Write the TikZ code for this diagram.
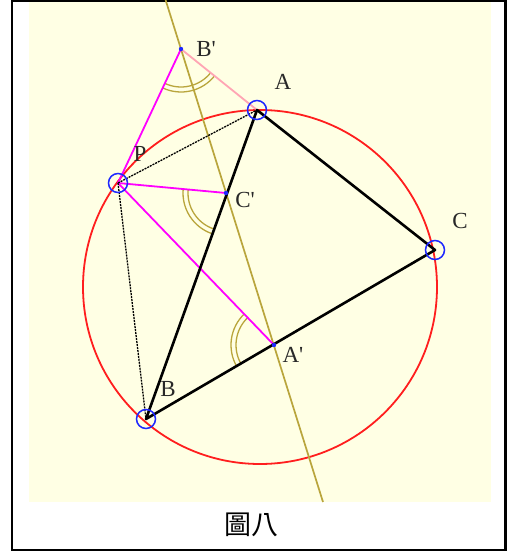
\documentclass[tikz,border=0pt]{standalone}
\usepackage{fontspec}
\setmainfont{Liberation Serif}
\newfontfamily\cjkfont{Noto Sans CJK TC}
\usetikzlibrary{angles}
\definecolor{bgyellow}{RGB}{255,255,228}
\definecolor{olivel}{RGB}{185,165,60}
\definecolor{pinkl}{RGB}{255,165,180}
\definecolor{mag}{RGB}{255,0,255}
\definecolor{redc}{RGB}{255,30,30}
\definecolor{bluep}{RGB}{30,40,255}
\definecolor{labelgray}{RGB}{40,40,40}
\tikzset{
  tri/.style={black,line width=2.6pt},
  dashline/.style={black,line width=1.3pt,dash pattern=on 2pt off 1pt},
  perp/.style={mag,line width=1.8pt},
  simson/.style={olivel,line width=1.7pt},
  ptmark/.style={bluep,line width=1.5pt},
  lbl/.style={labelgray,font=\fontsize{23}{23}\selectfont,inner sep=0pt},
  angmark/.style={draw=olivel,line width=1.3pt}
}
\begin{document}
\begin{tikzpicture}[x=1pt,y=-1pt]
\useasboundingbox (0,0) rectangle (508,551);
\fill[bgyellow] (29,0) rectangle (491,502);
\draw[black,line width=2.5pt] (12,0.5) rectangle (505.5,550);
% points
\coordinate (O) at (260,287);
\coordinate (A) at (257,110);
\coordinate (B) at (146,419);
\coordinate (C) at (435,250);
\coordinate (P) at (118,183);
\coordinate (Bp) at (181,49);
\coordinate (Cp) at (226,193);
\coordinate (Ap) at (274,345);
\coordinate (S1) at (165.6,0);
\coordinate (S2) at (323,502);
% circle
\draw[redc,line width=1.8pt] (O) circle (177pt);
% simson line
\draw[simson] (S1) -- (S2);
% angle marks
\pic[angmark,angle radius=38pt] {angle=P--Bp--A};
\pic[angmark,angle radius=43pt] {angle=P--Bp--A};
\pic[angmark,angle radius=38pt] {angle=P--Cp--B};
\pic[angmark,angle radius=43pt] {angle=P--Cp--B};
\pic[angmark,angle radius=38pt] {angle=P--Ap--B};
\pic[angmark,angle radius=43pt] {angle=P--Ap--B};
% perpendiculars
\draw[pinkl,line width=1.8pt] (A) -- (Bp);
\draw[perp] (P) -- (Bp);
\draw[perp] (P) -- (Cp);
\draw[perp] (P) -- (Ap);
% dashed
\draw[dashline] (P) -- (A);
\draw[dashline] (P) -- (B);
% triangle
\draw[tri,line join=round] (A) -- (B) -- (C) -- cycle;
% point marks
\foreach \p in {A,B,C,P} \draw[ptmark] (\p) circle (9.5pt);
\foreach \p in {Ap,Bp,Cp} \fill[bluep] (\p) circle (2.2pt);
% labels
\node[lbl] (lA) at (283,82) {A};
\node[lbl] (lB) at (168,389) {B};
\node[lbl] (lC) at (460,221) {C};
\node[lbl] (lP) at (140,154) {P};
\node[lbl] (lBp) at (206,49) {B\textquotesingle};
\node[lbl] (lCp) at (245,200) {C\textquotesingle};
\node[lbl] (lAp) at (293,355) {A\textquotesingle};
\node[inner sep=0pt,font=\cjkfont\fontsize{27}{27}\selectfont] (cap) at (251,525) {圖八};
\end{tikzpicture}
\end{document}
